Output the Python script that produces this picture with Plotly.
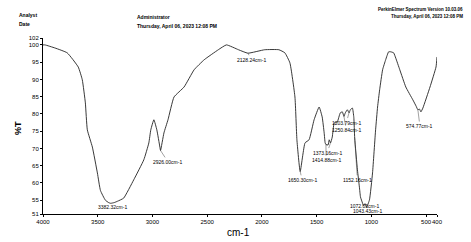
import numpy as np
import plotly.graph_objects as go

# Spectrum (wavenumber cm-1, %T)
wavenumber = [4000, 3982, 3890, 3779, 3678, 3641, 3613, 3595, 3549, 3503, 3475, 3430, 3400, 3382, 3350, 3319, 3263,
              3171, 3079, 3033, 3015, 2987, 2960, 2932, 2926, 2895, 2858, 2803, 2711, 2619, 2527, 2398,
              2324, 2214, 2128, 1974, 1845, 1790, 1744, 1698, 1680, 1650, 1606, 1569, 1523, 1477, 1449,
              1431, 1422, 1414, 1395, 1385, 1373, 1357, 1339, 1311, 1284, 1265, 1250, 1238, 1219, 1203,
              1192, 1173, 1160, 1152, 1127, 1109, 1099, 1081, 1072, 1058, 1043, 1017, 989, 961, 943,
              924, 897, 869, 842, 823, 796, 777, 740, 685, 621, 590, 575, 560, 547, 529, 464, 409, 400]
transmittance = [100.0, 100.0, 99.1, 97.7, 93.6, 89.9, 83.2, 75.4, 70.4, 62.9, 57.8, 55.0, 54.3, 54.1, 54.3, 54.7, 55.6,
                 60.9, 66.7, 71.6, 75.4, 78.3, 75.4, 70.4, 69.4, 74.5, 78.3, 84.9, 87.8, 92.8, 95.7, 98.6,
                 100.0, 98.6, 97.6, 98.6, 98.6, 97.7, 94.8, 84.9, 72.5, 63.3, 71.6, 72.5, 78.3, 82.0, 79.1,
                 74.5, 71.6, 71.1, 71.0, 72.5, 71.6, 73.3, 77.4, 77.7, 80.3, 80.6, 79.3, 80.3, 81.2, 80.3,
                 81.2, 81.7, 79.0, 73.0, 63.8, 58.8, 55.9, 54.2, 53.4, 54.0, 53.0, 55.1, 62.9, 75.4, 82.0,
                 87.0, 92.8, 95.7, 98.0, 98.0, 97.7, 96.2, 92.8, 87.8, 84.1, 82.2, 81.2, 81.4, 80.6, 81.7,
                 87.8, 93.6, 96.5]

# Labelled peaks
peak_wn = [3382.32, 2926.00, 2128.24, 1650.30, 1414.88, 1373.16, 1250.84, 1203.79, 1152.16,
           1072.01, 1043.43, 574.77]
peak_text = ["3382.32cm-1", "2926.00cm-1", "2128.24cm-1", "1650.30cm-1", "1414.88cm-1",
             "1373.16cm-1", "1250.84cm-1", "1203.79cm-1", "1152.16cm-1", "1072.01cm-1",
             "1043.43cm-1", "574.77cm-1"]
# label centre positions (data coordinates)
label_wn = [3365, 2858, 2094, 1633, 1413, 1403, 1228, 1228, 1127, 1063, 1035, 556]
label_t = [52.9, 66.1, 95.7, 60.9, 66.6, 68.8, 75.3, 77.5, 60.9, 53.4, 51.8, 76.5]

x_ticks = [4000, 3500, 3000, 2500, 2000, 1500, 1000, 500, 400]
y_ticks = [51, 55, 60, 65, 70, 75, 80, 85, 90, 95, 100, 102]

W, H = 471, 242
L, R, T, B = 43, 34, 38, 28

def px(x):
    return (x - L) / (W - L - R)

def py(y):
    return 1 - (y - T) / (H - T - B)

FONT = "Liberation Sans"

fig = go.Figure()
fig.add_trace(go.Scatter(x=wavenumber, y=transmittance, mode="lines",
                         line=dict(color="#222222", width=0.9, shape="spline", smoothing=0.4),
                         hoverinfo="skip", showlegend=False))

wn_asc = np.array(wavenumber[::-1], dtype=float)
t_asc = np.array(transmittance[::-1], dtype=float)
for wn, txt_, lx, ly in zip(peak_wn, peak_text, label_wn, label_t):
    yv = float(np.interp(wn, wn_asc, t_asc))
    fig.add_annotation(x=wn, y=yv, xref="x", yref="y", axref="x", ayref="y", ax=lx, ay=ly,
                       text=txt_, showarrow=True, arrowhead=0, arrowwidth=0.5, arrowcolor="#444444",
                       standoff=0, startstandoff=0,
                       font=dict(family=FONT, size=5, color="black"))

def txt(x, y, s, size=5, xanchor="left", textangle=0):
    fig.add_annotation(x=px(x), y=py(y), xref="paper", yref="paper", text=s, showarrow=False,
                       xanchor=xanchor, yanchor="middle", textangle=textangle,
                       font=dict(family=FONT, size=size, color="black"))

txt(17, 15, "<b>Analyst</b>")
txt(17, 24, "<b>Date</b>")
txt(135, 17, "<b>Administrator</b>")
txt(135, 26, "<b>Thursday, April 06, 2023 12:08 PM</b>")
txt(465, 10, "<b>PerkinElmer Spectrum Version 10.03.06</b>", size=4.5, xanchor="right")
txt(465, 16, "<b>Thursday, April 06, 2023 12:08 PM</b>", size=4.5, xanchor="right")
txt(18, 128, "<b>%T</b>", size=9, xanchor="center", textangle=-90)
txt(238, 232, "cm-1", size=10, xanchor="center")

fig.update_layout(
    width=W, height=H,
    margin=dict(l=L, r=R, t=T, b=B),
    paper_bgcolor="white", plot_bgcolor="white",
    font=dict(family=FONT, size=6, color="black"),
    showlegend=False,
    xaxis=dict(range=[4000, 400], tickvals=x_ticks, ticktext=[str(v) for v in x_ticks],
               tickangle=0,
               showgrid=False, zeroline=False, showline=True, linecolor="black", linewidth=1,
               ticks="outside", ticklen=2, tickcolor="black", tickfont=dict(size=6)),
    yaxis=dict(range=[51, 102], tickvals=y_ticks, ticktext=[str(v) for v in y_ticks],
               showgrid=False, zeroline=False, showline=True, linecolor="black", linewidth=1,
               ticks="outside", ticklen=2, tickcolor="black", tickfont=dict(size=6)),
)

fig.write_html("out.html")
